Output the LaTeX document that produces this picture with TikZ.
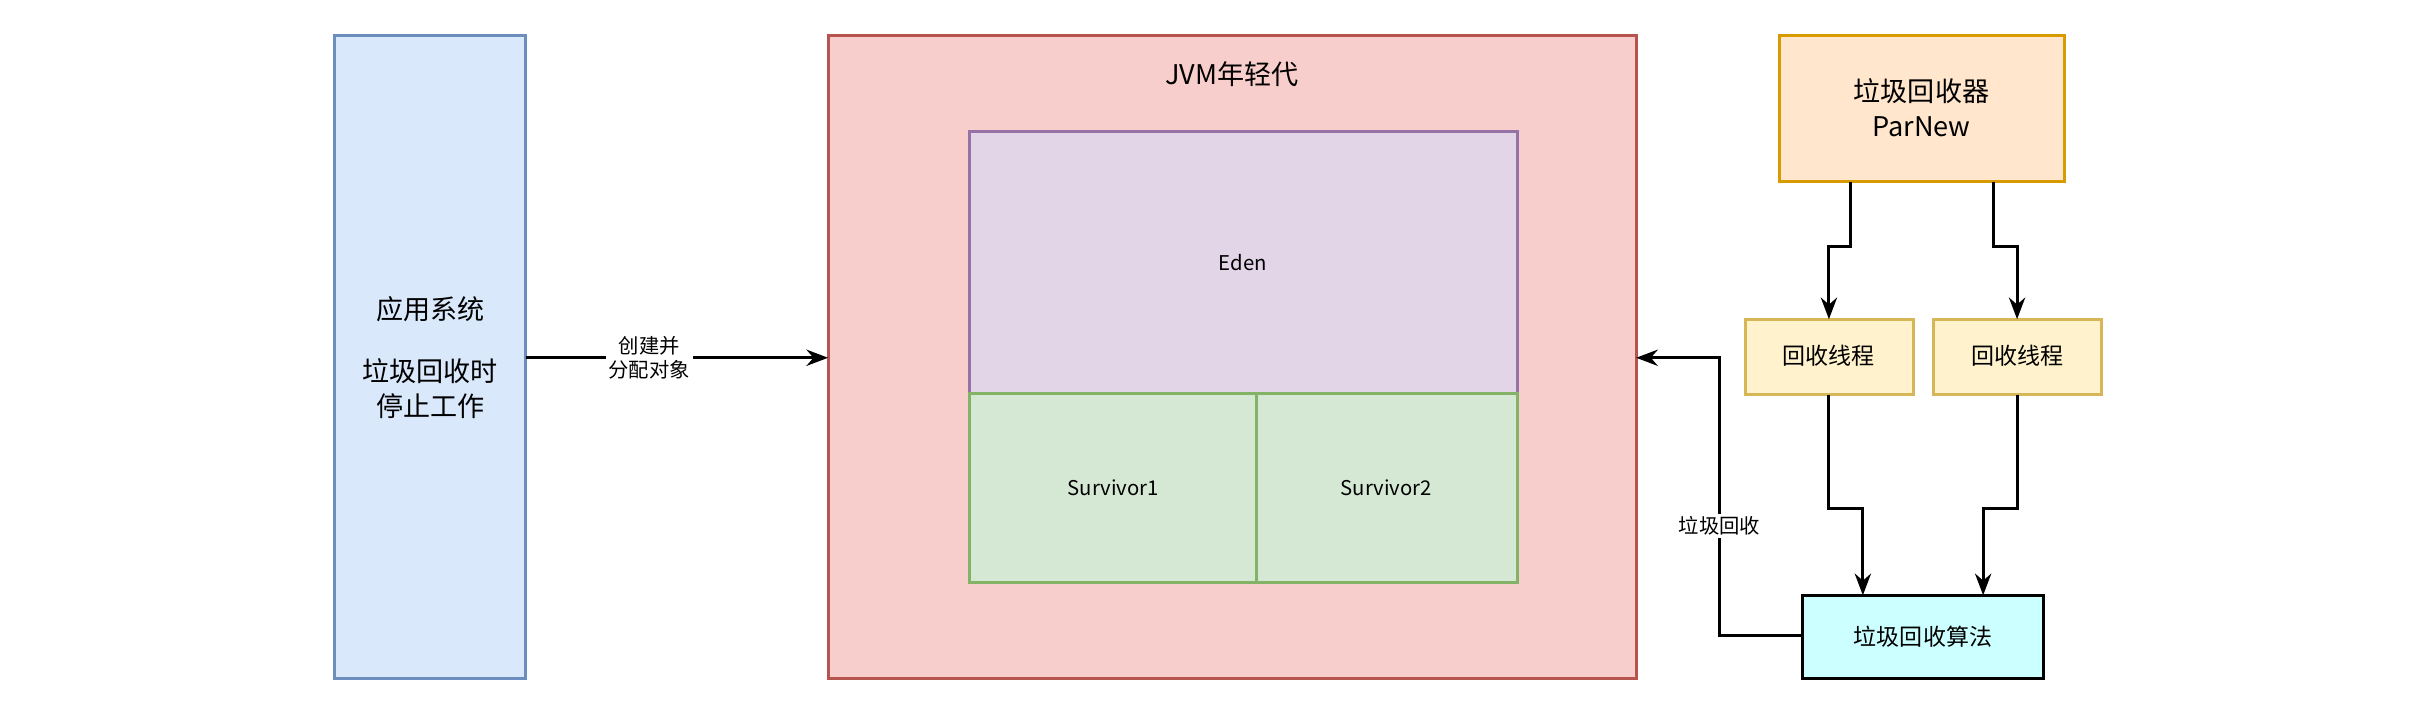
\documentclass[tikz,border=0pt]{standalone}
\usepackage{fontspec}
\setmainfont{Noto Sans CJK SC}
\usetikzlibrary{arrows.meta}
\definecolor{appfill}{HTML}{DAE8FC}\definecolor{appline}{HTML}{6C8EBF}
\definecolor{jvmfill}{HTML}{F8CECC}\definecolor{jvmline}{HTML}{B85450}
\definecolor{edenfill}{HTML}{E1D5E7}\definecolor{edenline}{HTML}{9673A6}
\definecolor{survfill}{HTML}{D5E8D4}\definecolor{survline}{HTML}{82B366}
\definecolor{gcfill}{HTML}{FFE6CC}\definecolor{gcline}{HTML}{D79B00}
\definecolor{thrfill}{HTML}{FFF2CC}\definecolor{thrline}{HTML}{D6B656}
\definecolor{algfill}{HTML}{CCFFFF}
\tikzset{
  area/.style={line width=1.1pt},
  flow/.style={-{Stealth[length=8pt,width=6pt]}, line width=1.1pt},
  lbl/.style={font=\fontsize{7.5}{9}\selectfont, align=center},
}
\begin{document}
\begin{tikzpicture}[x=0.02cm, y=-0.02cm]
        \useasboundingbox (0,0) rectangle (1568,460);
        % boxes
        \draw[area, fill=appfill, draw=appline] (217,23) rectangle (341,440);
        \node[align=center, font=\fontsize{10}{13}\selectfont] (app) at (279,232) {应用系统\\[1em]垃圾回收时\\停止工作};
        \draw[area, fill=jvmfill, draw=jvmline] (537,23) rectangle (1061,440);
        \node[font=\fontsize{10}{12}\selectfont] (jvm) at (799,48) {JVM年轻代};
        \draw[area, fill=edenfill, draw=edenline] (629,85) rectangle (984,255);
        \node[lbl] (eden) at (806,170) {Eden};
        \draw[area, fill=survfill, draw=survline] (629,255) rectangle (815,378);
        \draw[area, fill=survfill, draw=survline] (815,255) rectangle (984,378);
        \node[lbl] (s1) at (722,316) {Survivor1};
        \node[lbl] (s2) at (899,316) {Survivor2};
        \draw[area, fill=gcfill, draw=gcline] (1154,23) rectangle (1339,118);
        \node[align=center, font=\fontsize{10}{13}\selectfont] (gc) at (1246,70) {垃圾回收器\\ParNew};
        \draw[area, fill=thrfill, draw=thrline] (1132,207) rectangle (1241,256);
        \draw[area, fill=thrfill, draw=thrline] (1254,207) rectangle (1363,256);
        \node[lbl, font=\fontsize{8.5}{10}\selectfont] (t1) at (1186,231) {回收线程};
        \node[lbl, font=\fontsize{8.5}{10}\selectfont] (t2) at (1308,231) {回收线程};
        \draw[area, fill=algfill] (1169,386) rectangle (1325,440);
        \node[lbl, font=\fontsize{8.5}{10}\selectfont] (alg) at (1247,413) {垃圾回收算法};

        % connectors
        \draw[flow] (341,232) -- (537,232);
        \node[lbl, fill=white, inner sep=1pt] (make) at (421,232) {创建并\\分配对象};
        \draw[flow] (1200,118) -- (1200,160) -- (1186,160) -- (1186,207);
        \draw[flow] (1293,118) -- (1293,160) -- (1308,160) -- (1308,207);
        \draw[flow] (1186,256) -- (1186,330) -- (1208,330) -- (1208,386);
        \draw[flow] (1308,256) -- (1308,330) -- (1286,330) -- (1286,386);
        \draw[flow] (1169,412) -- (1115,412) -- (1115,232) -- (1061,232);
        \node[lbl, fill=white, inner sep=1pt] (sweep) at (1115,341) {垃圾回收};
    \end{tikzpicture}
\end{document}
